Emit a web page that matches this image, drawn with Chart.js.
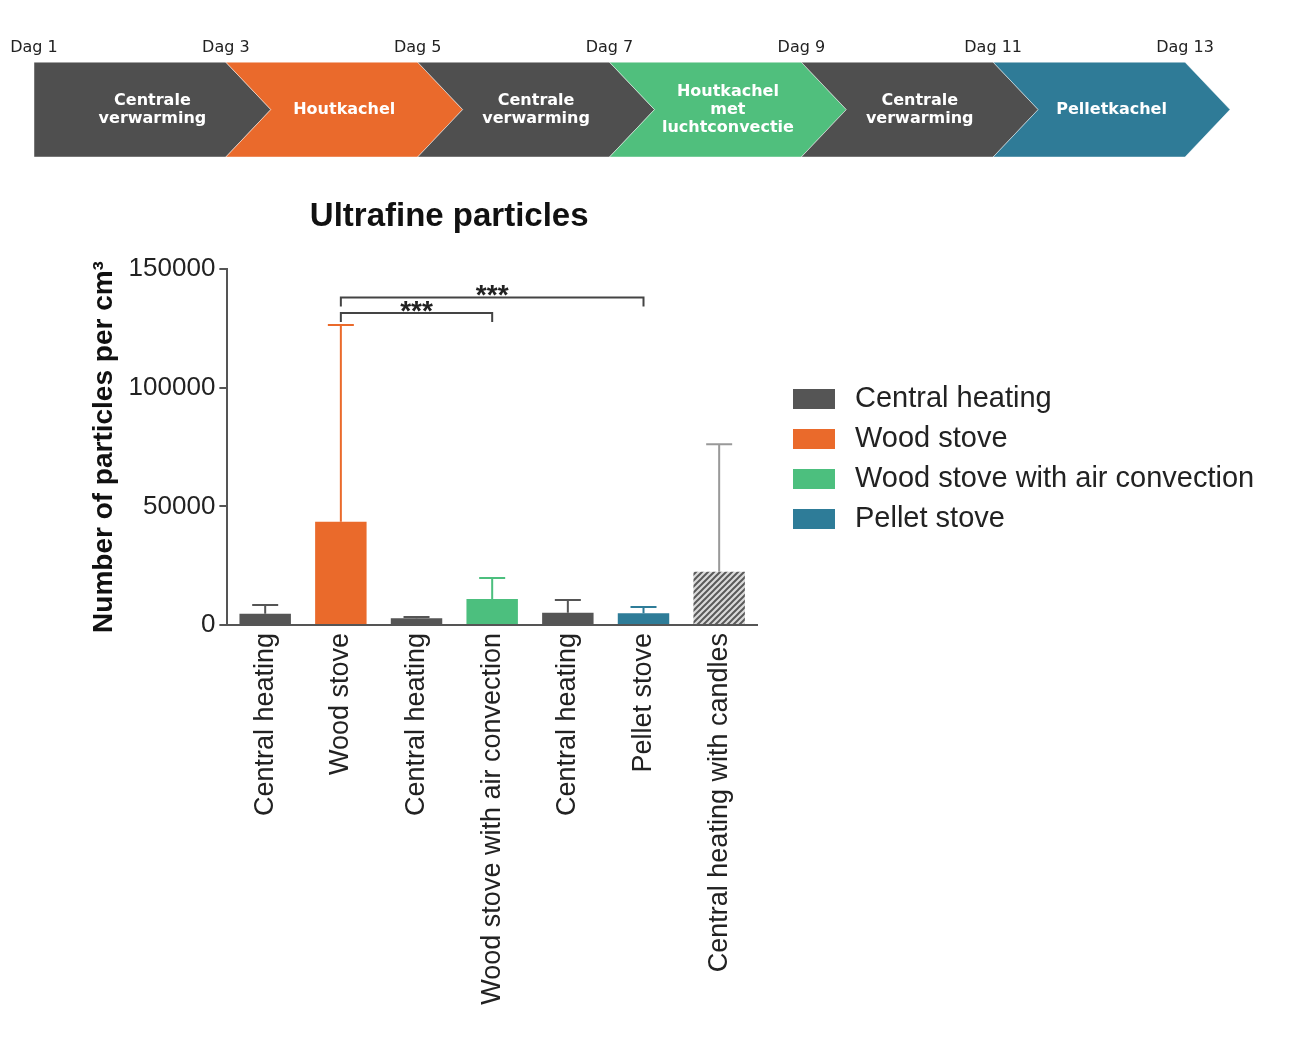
<!DOCTYPE html>
<html>
<head>
<meta charset="utf-8">
<title>Ultrafine particles</title>
<script src="https://cdn.jsdelivr.net/npm/chart.js@4"></script>
<style>
  body { margin: 0; background: #fff; overflow: hidden; }
  #tijdlijn-box { position: absolute; left: 0; top: 0; width: 1314px; height: 170px; }
  #grafiek-box { position: absolute; left: 0; top: 170px; width: 1314px; height: 888px; }
</style>
</head>
<body>
<div id="tijdlijn-box"><canvas id="tijdlijn"></canvas></div>
<div id="grafiek-box"><canvas id="myChart"></canvas></div>
<script>
// Tijdlijn van het experiment
var dagen = [1, 3, 5, 7, 9, 11, 13];
var fases = [['Centrale', 'verwarming'], ['Houtkachel'], ['Centrale', 'verwarming'],
             ['Houtkachel', 'met', 'luchtconvectie'], ['Centrale', 'verwarming'], ['Pelletkachel']];
var faseStart = [1, 3, 5, 7, 9, 11];
var faseEinde = [3, 5, 7, 9, 11, 13];
var faseKleuren = ['#4f4f4f', '#ea6a2c', '#4f4f4f', '#50bf7d', '#4f4f4f', '#2f7b97'];

// Ultrafijnstof per periode (gemiddelde + SD)
var categorieen = ['Central heating', 'Wood stove', 'Central heating', 'Wood stove with air convection',
                   'Central heating', 'Pellet stove', 'Central heating with candles'];
var gemiddelden = [4700, 43500, 2800, 11000, 5200, 4900, 22400];
var standaardafwijking = [3700, 82900, 600, 8800, 5300, 2700, 53800];
var yTicks = [0, 50000, 100000, 150000];
var legendaLabels = ['Central heating', 'Wood stove', 'Wood stove with air convection', 'Pellet stove'];
// vergelijkingen: [van, tot, hoogte, label]
var vergelijkingen = [[1, 3, 131500, '***'], [1, 5, 138000, '***']];

var grijs = '#555555', oranje = '#ea6a2b', groen = '#4cbf7e', blauw = '#2e7c98';
var legendaKleuren = [grijs, oranje, groen, blauw];

Chart.defaults.font.family = '"Liberation Sans", Arial, sans-serif';

// ---- tijdlijn met pijlen ----
var chevronPlugin = {
  id: 'chevrons',
  beforeDatasetsDraw: function(chart) {
    var ctx = chart.ctx;
    var punt = 45;
    chart.data.datasets.forEach(function(ds, i) {
      var el = chart.getDatasetMeta(i).data[0];
      var p = el.getProps(['x', 'y', 'base', 'height'], true);
      var boven = p.y - p.height / 2, onder = p.y + p.height / 2;
      ctx.save();
      ctx.beginPath();
      ctx.moveTo(p.base, boven);
      ctx.lineTo(p.x, boven);
      ctx.lineTo(p.x + punt, p.y);
      ctx.lineTo(p.x, onder);
      ctx.lineTo(p.base, onder);
      if (i > 0) ctx.lineTo(p.base + punt, p.y);
      ctx.closePath();
      ctx.fillStyle = ds.backgroundColor;
      ctx.fill();
      ctx.strokeStyle = 'rgba(255,255,255,0.45)';
      ctx.lineWidth = 1;
      ctx.stroke();
      ctx.fillStyle = '#ffffff';
      ctx.font = 'bold 16px "DejaVu Sans"';
      ctx.textAlign = 'center';
      ctx.textBaseline = 'middle';
      var regels = fases[i];
      var cx = (p.base + p.x + punt) / 2;
      regels.forEach(function(r, j) {
        ctx.fillText(r, cx, p.y + (j - (regels.length - 1) / 2) * 18);
      });
      ctx.restore();
    });
    return false;
  }
};

new Chart(document.getElementById('tijdlijn'), {
  type: 'bar',
  data: {
    labels: ['Fase'],
    datasets: fases.map(function(f, i) {
      return { label: f.join(' '), data: [[faseStart[i], faseEinde[i]]], backgroundColor: faseKleuren[i] };
    })
  },
  options: {
    indexAxis: 'y',
    responsive: true,
    maintainAspectRatio: false,
    animation: false,
    layout: { padding: { top: 33, left: 34, right: 129, bottom: 13 } },
    datasets: { bar: { grouped: false, barPercentage: 1, categoryPercentage: 1 } },
    scales: {
      x: {
        type: 'linear',
        position: 'top',
        min: dagen[0],
        max: dagen[dagen.length - 1],
        afterBuildTicks: function(s) { s.ticks = dagen.map(function(d) { return { value: d }; }); },
        ticks: {
          callback: function(v) { return 'Dag ' + v; },
          font: { family: '"DejaVu Sans"', size: 16 },
          color: '#222',
          padding: 5,
          maxRotation: 0,
          autoSkip: false
        },
        grid: { display: false, drawTicks: false },
        border: { display: false }
      },
      y: { display: false }
    },
    plugins: { legend: { display: false }, tooltip: { enabled: false } }
  },
  plugins: [chevronPlugin]
});

// ---- staafdiagram ----
var canvas = document.getElementById('myChart');
var ctx = canvas.getContext('2d');

function maakArcering() {
  var c = document.createElement('canvas');
  c.width = 6; c.height = 6;
  var g = c.getContext('2d');
  g.fillStyle = '#dadada';
  g.fillRect(0, 0, 6, 6);
  g.strokeStyle = '#5a5a5a';
  g.lineWidth = 2;
  g.beginPath();
  g.moveTo(0, 6); g.lineTo(6, 0);
  g.moveTo(-1, 1); g.lineTo(1, -1);
  g.moveTo(5, 7); g.lineTo(7, 5);
  g.stroke();
  return ctx.createPattern(c, 'repeat');
}

var barKleuren = [grijs, oranje, grijs, groen, grijs, blauw, maakArcering()];
var foutKleuren = [grijs, oranje, grijs, groen, grijs, blauw, '#999999'];

var titelPlugin = {
  id: 'titel',
  afterDraw: function(chart) {
    var c = chart.ctx, a = chart.chartArea;
    c.save();
    c.font = 'bold 33px "Liberation Sans"';
    c.fillStyle = '#111';
    c.textAlign = 'center';
    c.textBaseline = 'middle';
    c.fillText('Ultrafine particles', (a.left + a.right) / 2 - 43, a.top - 52);
    c.restore();
  }
};

var legendaPlugin = {
  id: 'legenda',
  afterDraw: function(chart) {
    var c = chart.ctx, a = chart.chartArea;
    var x0 = a.right + 36, y0 = a.top + 130;
    c.save();
    c.font = '29px "Liberation Sans"';
    c.textBaseline = 'middle';
    c.textAlign = 'left';
    legendaLabels.forEach(function(t, i) {
      var y = y0 + i * 40;
      c.fillStyle = legendaKleuren[i];
      c.fillRect(x0, y - 10, 42, 20);
      c.fillStyle = '#222';
      c.fillText(t, x0 + 62, y);
    });
    c.restore();
  }
};

var foutbalkPlugin = {
  id: 'foutbalken',
  afterDatasetsDraw: function(chart) {
    var c = chart.ctx, y = chart.scales.y, x = chart.scales.x;
    chart.getDatasetMeta(0).data.forEach(function(bar, i) {
      var top = y.getPixelForValue(gemiddelden[i] + standaardafwijking[i]);
      c.save();
      c.strokeStyle = foutKleuren[i];
      c.lineWidth = 2;
      c.beginPath();
      c.moveTo(bar.x, bar.y);
      c.lineTo(bar.x, top);
      c.moveTo(bar.x - 13, top);
      c.lineTo(bar.x + 13, top);
      c.stroke();
      c.restore();
    });
    // significantie haken
    vergelijkingen.forEach(function(v) {
      var xa = x.getPixelForValue(v[0]), xb = x.getPixelForValue(v[1]);
      var yh = y.getPixelForValue(v[2]);
      c.save();
      c.strokeStyle = '#444';
      c.lineWidth = 2;
      c.beginPath();
      c.moveTo(xa, yh + 9);
      c.lineTo(xa, yh);
      c.lineTo(xb, yh);
      c.lineTo(xb, yh + 9);
      c.stroke();
      c.fillStyle = '#222';
      c.font = 'bold 28px "Liberation Sans"';
      c.textAlign = 'center';
      c.textBaseline = 'alphabetic';
      c.fillText(v[3], (xa + xb) / 2, yh + 7);
      c.restore();
    });
  }
};

new Chart(ctx, {
  type: 'bar',
  data: {
    labels: categorieen,
    datasets: [{
      label: 'Ultrafine particles',
      data: gemiddelden,
      backgroundColor: barKleuren,
      borderWidth: 0,
      categoryPercentage: 0.68,
      barPercentage: 1
    }]
  },
  options: {
    responsive: true,
    maintainAspectRatio: false,
    animation: false,
    layout: { padding: { top: 99, left: 83, right: 557, bottom: 49 } },
    scales: {
      x: {
        grid: { display: false, drawTicks: false },
        border: { display: true, color: '#555', width: 2 },
        ticks: { autoSkip: false, minRotation: 90, maxRotation: 90, padding: 8, color: '#222', font: { size: 27 } },
        // de gedraaide labels zijn hoger dan het plotgebied: geef de as de volle hoogte
        afterFit: function(s) {
          s.ctx.save();
          s.ctx.font = '27px "Liberation Sans"';
          var w = Math.max.apply(null, categorieen.map(function(t) { return s.ctx.measureText(t).width; }));
          s.ctx.restore();
          s.height = Math.ceil(w) + 12;
        }
      },
      y: {
        min: 0,
        max: 150000,
        afterBuildTicks: function(s) { s.ticks = yTicks.map(function(v) { return { value: v }; }); },
        grid: { drawOnChartArea: false, drawTicks: true, tickLength: 8, color: '#555', lineWidth: 2 },
        border: { color: '#555', width: 2 },
        ticks: { padding: 4, color: '#222', font: { size: 26 }, callback: function(v) { return String(v); } },
        title: { display: true, text: 'Number of particles per cm³', color: '#111', font: { size: 28, weight: 'bold' } }
      }
    },
    plugins: {
      legend: { display: false },
      tooltip: { enabled: false }
    }
  },
  plugins: [titelPlugin, legendaPlugin, foutbalkPlugin]
});
</script>
</body>
</html>
